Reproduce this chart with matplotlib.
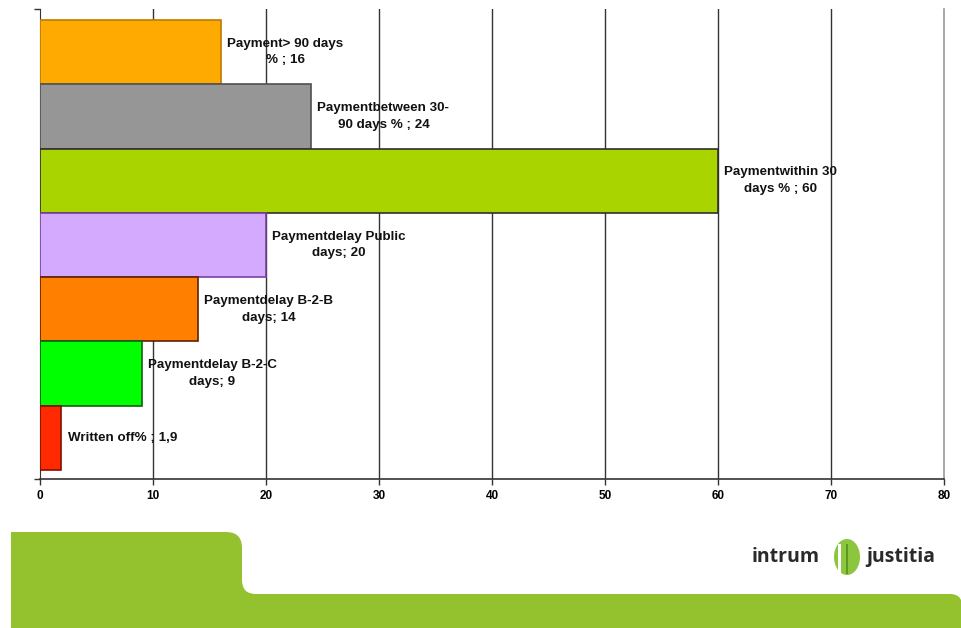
import matplotlib
matplotlib.use("Agg")
import matplotlib.pyplot as plt
from matplotlib.path import Path
from matplotlib.patches import PathPatch, Ellipse, Rectangle

# ---- data (top to bottom as shown) ----
labels = [
    "Payment> 90 days\n% ; 16",
    "Paymentbetween 30-\n90 days % ; 24",
    "Paymentwithin 30\ndays % ; 60",
    "Paymentdelay Public\ndays; 20",
    "Paymentdelay B-2-B\ndays; 14",
    "Paymentdelay B-2-C\ndays; 9",
    "Written off% ; 1,9",
]
values = [16, 24, 60, 20, 14, 9, 1.9]
face_colors = ["#FFAA00", "#969696", "#AAD400", "#D4AAFF", "#FF8000", "#00FF00", "#FF2A00"]
edge_colors = ["#C07800", "#505050", "#303030", "#7A3FA0", "#602000", "#106010", "#801000"]
xticks = [0, 10, 20, 30, 40, 50, 60, 70, 80]

W, H = 962, 628
fig = plt.figure(figsize=(W / 100, H / 100), dpi=100)
fig.patch.set_facecolor("white")

def fx(px):
    return px / W

def fy(py):
    return 1 - py / H

ax = fig.add_axes([fx(40), fy(479), fx(944) - fx(40), fy(9) - fy(479)])

n = len(values)
ypos = list(range(n - 1, -1, -1))
ax.barh(ypos, values, height=1.0, color=face_colors, edgecolor=edge_colors,
        linewidth=1.2, zorder=3)

for y, v, lab in zip(ypos, values, labels):
    ax.annotate(lab, xy=(v, y), xytext=(4.5, 0), textcoords="offset points",
                ha="left", va="center", multialignment="center",
                fontsize=9.6, fontweight="bold", family="Liberation Sans",
                color="#111111", zorder=5, linespacing=1.5)

ax.set_xlim(0, 80)
ax.set_ylim(-0.64, n - 0.5 + 0.17)
ax.set_xticks(xticks)
ax.set_xticklabels([str(t) for t in xticks], fontsize=8.5, fontweight="bold",
                   family="Liberation Sans")
ax.set_yticks([-0.64, n - 0.5 + 0.17])
ax.set_yticklabels([])
ax.tick_params(axis="y", length=4, width=1, color="#333333")
ax.tick_params(axis="x", length=4, width=1, color="#333333", pad=4)

for t in xticks[1:-1]:
    ax.axvline(t, color="#333333", linewidth=1.0, zorder=1)
ax.axvline(80, color="#999999", linewidth=1.2, zorder=1, clip_on=False)

for s in ["top", "right"]:
    ax.spines[s].set_visible(False)
ax.spines["left"].set_color("#333333")
ax.spines["bottom"].set_color("#333333")
ax.spines["bottom"].set_linewidth(1.2)

# ---- bottom green decoration ----
green = "#93C22E"
verts = [
    (11, 628), (11, 532), (226, 532),
    (242, 532), (242, 548),
    (242, 580),
    (242, 594), (256, 594),
    (950, 594),
    (962, 594), (962, 606),
    (962, 628), (11, 628),
]
codes = [Path.MOVETO, Path.LINETO, Path.LINETO,
         Path.CURVE3, Path.CURVE3,
         Path.LINETO,
         Path.CURVE3, Path.CURVE3,
         Path.LINETO,
         Path.CURVE3, Path.CURVE3,
         Path.LINETO, Path.CLOSEPOLY]
path = Path([(fx(x), fy(y)) for x, y in verts], codes)
fig.patches.append(PathPatch(path, facecolor=green, edgecolor="none",
                             transform=fig.transFigure))

# ---- logo ----
fig.text(fx(752), fy(557), "intrum", fontsize=14, fontweight="bold",
         color="#2A2A2A", family="Open Sans", va="center", ha="left")
fig.text(fx(866), fy(557), "justitia", fontsize=14, fontweight="bold",
         color="#2A2A2A", family="Open Sans", va="center", ha="left")
fig.patches.append(Ellipse((fx(847), fy(557)), fx(26), 36 / H,
                           facecolor="#8CC63F", edgecolor="none",
                           transform=fig.transFigure))
fig.patches.append(Rectangle((fx(838), fy(574)), fx(3), 30 / H,
                             facecolor="white", edgecolor="none",
                             transform=fig.transFigure))
fig.patches.append(Rectangle((fx(846), fy(574)), fx(2), 30 / H,
                             facecolor="#5A9A1E", edgecolor="none",
                             transform=fig.transFigure))

fig.savefig("out.png", dpi=100, facecolor="white")
